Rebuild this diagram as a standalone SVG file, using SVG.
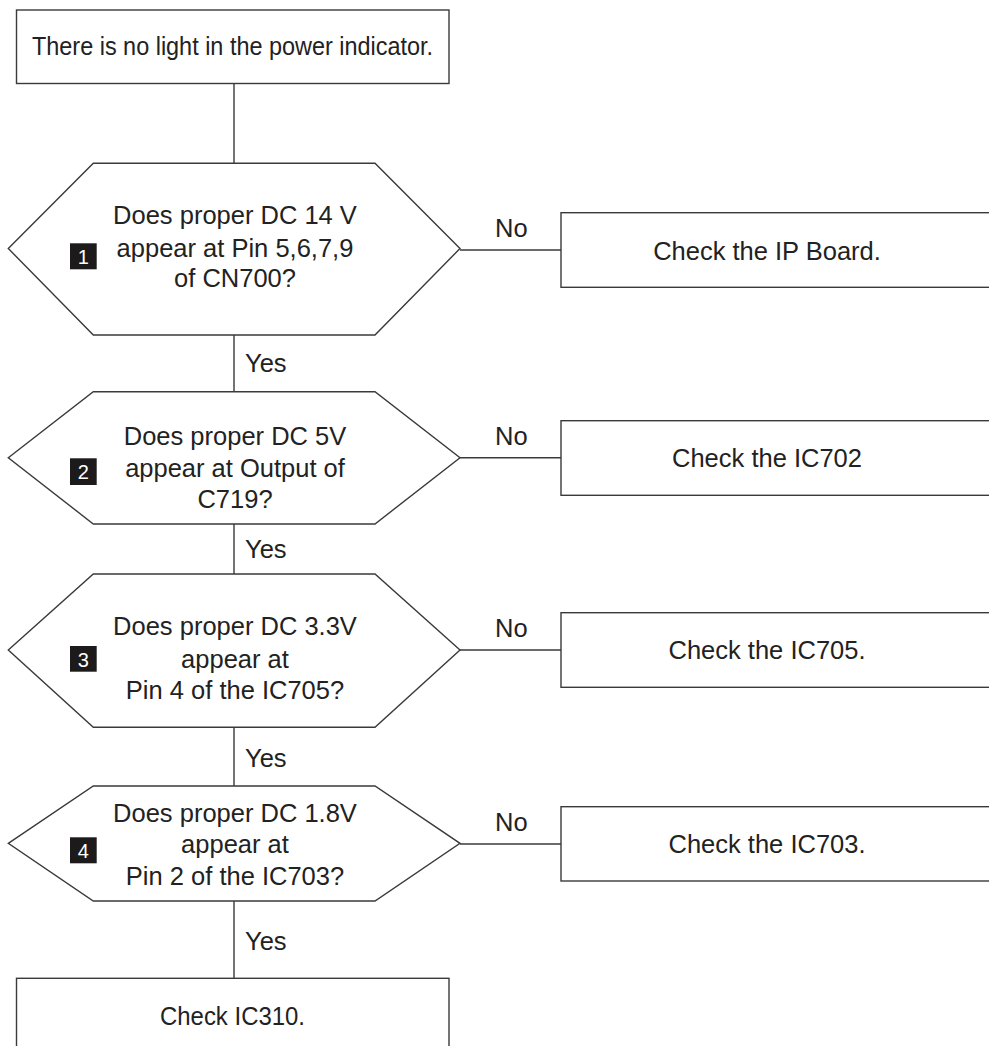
<svg xmlns="http://www.w3.org/2000/svg" width="989" height="1046" viewBox="0 0 989 1046">
<style>
.shape{fill:#fff;stroke:#3a3a3a;stroke-width:1.4}
.conn{fill:none;stroke:#3a3a3a;stroke-width:1.4}
.t{font-family:"Liberation Sans",Arial,sans-serif;font-size:25.5px;fill:#222;text-anchor:middle}
.lbl{font-family:"Liberation Sans",Arial,sans-serif;font-size:25.5px;fill:#222}
.badge{fill:#1c1a1a}
.bt{font-family:"Liberation Sans",Arial,sans-serif;font-size:20px;fill:#fff;text-anchor:middle}
</style>
<rect width="989" height="1046" fill="#fff"/>
<g id="connectors">
<line class="conn" x1="234" y1="83.5" x2="234" y2="163.3"/>
<line class="conn" x1="234" y1="335" x2="234" y2="391.7"/>
<line class="conn" x1="234" y1="524" x2="234" y2="574"/>
<line class="conn" x1="234" y1="727.3" x2="234" y2="786"/>
<line class="conn" x1="234" y1="901" x2="234" y2="978.3"/>
<line class="conn" x1="460" y1="250" x2="561" y2="250"/>
<line class="conn" x1="460" y1="457.7" x2="561" y2="457.7"/>
<line class="conn" x1="460" y1="650" x2="561" y2="650"/>
<line class="conn" x1="460" y1="844" x2="561" y2="844"/>
<text class="lbl" x="245" y="372">Yes</text>
<text class="lbl" x="245" y="558">Yes</text>
<text class="lbl" x="245" y="767">Yes</text>
<text class="lbl" x="245" y="950">Yes</text>
<text class="lbl" x="495" y="237">No</text>
<text class="lbl" x="495" y="445">No</text>
<text class="lbl" x="495" y="637">No</text>
<text class="lbl" x="495" y="831">No</text>
</g>
<g id="start">
<rect class="shape" x="16.5" y="10" width="432.5" height="73.5"/>
<text class="t" x="232.5" y="55" textLength="401" lengthAdjust="spacingAndGlyphs">There is no light in the power indicator.</text>
</g>
<g id="q1">
<polygon class="shape" points="8.3,248.5 93.3,163.3 375,163.3 460,248.5 375,335 93.3,335"/>
<rect class="badge" x="70" y="243.3" width="26.7" height="26"/>
<text class="bt" x="83.3" y="264">1</text>
<text class="t" x="235" y="224">Does proper DC 14 V</text>
<text class="t" x="235" y="256.5">appear at Pin 5,6,7,9</text>
<text class="t" x="235" y="287">of CN700?</text>
</g>
<g id="a1">
<rect class="shape" x="561" y="212.7" width="440" height="74.6"/>
<text class="t" x="767" y="260">Check the IP Board.</text>
</g>
<g id="q2">
<polygon class="shape" points="8.3,457.7 93.3,391.7 375,391.7 460,457.7 375,524 93.3,524"/>
<rect class="badge" x="70" y="458.3" width="26.7" height="26.7"/>
<text class="bt" x="83.3" y="479">2</text>
<text class="t" x="235" y="445">Does proper DC 5V</text>
<text class="t" x="235" y="476.7">appear at Output of</text>
<text class="t" x="235" y="508.3">C719?</text>
</g>
<g id="a2">
<rect class="shape" x="561" y="420.7" width="440" height="74.6"/>
<text class="t" x="767" y="467">Check the IC702</text>
</g>
<g id="q3">
<polygon class="shape" points="8.3,650 93.3,574 375,574 460,650 375,727.3 93.3,727.3"/>
<rect class="badge" x="70" y="646" width="26.7" height="25.7"/>
<text class="bt" x="83.3" y="666.5">3</text>
<text class="t" x="235" y="635">Does proper DC 3.3V</text>
<text class="t" x="235" y="667.7">appear at</text>
<text class="t" x="235" y="699.3">Pin 4 of the IC705?</text>
</g>
<g id="a3">
<rect class="shape" x="561" y="612.7" width="440" height="74.6"/>
<text class="t" x="767" y="659.3">Check the IC705.</text>
</g>
<g id="q4">
<polygon class="shape" points="8.3,843.3 93.3,786 375,786 460,843.3 375,901 93.3,901"/>
<rect class="badge" x="70" y="837.3" width="26.7" height="26"/>
<text class="bt" x="83.3" y="858">4</text>
<text class="t" x="235" y="821.7">Does proper DC 1.8V</text>
<text class="t" x="235" y="852.7">appear at</text>
<text class="t" x="235" y="885">Pin 2 of the IC703?</text>
</g>
<g id="a4">
<rect class="shape" x="561" y="806.7" width="440" height="74.3"/>
<text class="t" x="767" y="853.3">Check the IC703.</text>
</g>
<g id="end">
<rect class="shape" x="16.5" y="978.3" width="432.5" height="90"/>
<text class="t" x="232.5" y="1025" textLength="145" lengthAdjust="spacingAndGlyphs">Check IC310.</text>
</g>
</svg>
